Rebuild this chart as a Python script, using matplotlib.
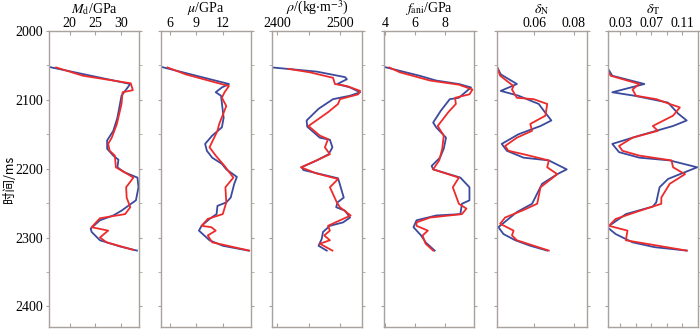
import numpy as np
import matplotlib
matplotlib.use("Agg")
import matplotlib.pyplot as plt
from matplotlib.ticker import MultipleLocator, FixedLocator

plt.rcParams['font.family'] = ['Liberation Serif', 'Noto Sans CJK SC']
plt.rcParams['mathtext.fontset'] = 'stix'

# --- data: (time ms, value) for blue and red curves in each panel ---
md_blue_t = [2052, 2077, 2085, 2094, 2126, 2145, 2159, 2171, 2181, 2187, 2198, 2205, 2213, 2227, 2246, 2254, 2261, 2268, 2275, 2287, 2292, 2304, 2313, 2319]
md_blue_v = [15.9, 31.8, 31.0, 30.1, 29.3, 28.5, 27.3, 27.3, 28.5, 29.5, 29.3, 30.6, 33.2, 33.4, 32.9, 31.4, 30.1, 28.5, 25.9, 24.1, 24.3, 25.9, 29.8, 33.1]
md_red_t = [2053, 2065, 2076, 2086, 2089, 2106, 2135, 2155, 2164, 2174, 2181, 2198, 2207, 2213, 2227, 2242, 2256, 2266, 2272, 2285, 2290, 2300, 2307, 2318]
md_red_v = [17.4, 22.6, 31.9, 32.3, 30.3, 30.1, 29.2, 28.2, 27.5, 27.8, 28.8, 29.0, 31.1, 32.4, 31.0, 31.1, 31.8, 30.8, 25.9, 24.3, 27.5, 25.9, 27.2, 32.4]

mu_blue_t = [2052, 2077, 2082, 2089, 2094, 2126, 2140, 2152, 2164, 2174, 2184, 2193, 2201, 2212, 2222, 2242, 2249, 2254, 2266, 2273, 2283, 2290, 2304, 2312, 2319]
mu_blue_v = [5.0, 12.7, 11.9, 11.2, 11.8, 12.1, 11.9, 10.8, 10.0, 10.2, 10.8, 11.9, 12.4, 13.6, 13.3, 12.9, 12.4, 11.4, 11.3, 10.5, 9.6, 9.3, 10.5, 12.0, 14.9]
mu_red_t = [2053, 2063, 2080, 2089, 2097, 2109, 2135, 2145, 2169, 2181, 2196, 2213, 2227, 2249, 2266, 2273, 2283, 2285, 2290, 2297, 2307, 2319]
mu_red_v = [5.75, 7.8, 12.7, 12.2, 11.9, 12.4, 11.6, 11.4, 10.5, 11.2, 12.2, 13.2, 12.3, 12.4, 12.0, 10.3, 9.6, 10.7, 11.2, 10.3, 10.8, 15.0]

rho_blue_t = [2053, 2059, 2067, 2070, 2077, 2082, 2089, 2094, 2099, 2113, 2130, 2139, 2155, 2158, 2169, 2179, 2188, 2198, 2202, 2214, 2242, 2249, 2256, 2261, 2271, 2278, 2283, 2292, 2302, 2312, 2319]
rho_blue_v = [2393, 2463, 2508, 2511, 2496, 2516, 2532, 2516, 2489, 2466, 2447, 2448, 2468, 2484, 2488, 2482, 2463, 2439, 2442, 2497, 2506, 2496, 2494, 2508, 2516, 2505, 2484, 2473, 2471, 2466, 2479]
rho_red_t = [2055, 2060, 2068, 2077, 2080, 2087, 2092, 2099, 2106, 2118, 2138, 2152, 2157, 2169, 2179, 2188, 2198, 2207, 2215, 2227, 2249, 2256, 2268, 2275, 2283, 2290, 2297, 2304, 2309, 2319]
rho_red_v = [2418, 2452, 2489, 2492, 2511, 2532, 2529, 2500, 2497, 2481, 2450, 2468, 2481, 2476, 2484, 2463, 2438, 2463, 2497, 2484, 2495, 2500, 2517, 2500, 2481, 2484, 2475, 2484, 2468, 2488]

fani_blue_t = [2052, 2065, 2072, 2077, 2082, 2097, 2099, 2116, 2133, 2140, 2155, 2171, 2184, 2196, 2201, 2213, 2227, 2246, 2251, 2266, 2268, 2275, 2285, 2297, 2307, 2319]
fani_blue_v = [3.93, 6.3, 7.4, 8.9, 9.7, 8.9, 8.3, 7.7, 7.2, 7.4, 8.05, 7.9, 7.65, 7.1, 7.2, 9.0, 9.6, 9.6, 9.1, 9.0, 7.4, 6.1, 5.9, 6.4, 6.7, 7.3]
fani_red_t = [2053, 2060, 2072, 2078, 2085, 2092, 2097, 2106, 2118, 2138, 2152, 2171, 2188, 2201, 2213, 2227, 2251, 2258, 2266, 2271, 2278, 2283, 2290, 2297, 2309, 2319]
fani_red_v = [4.3, 5.0, 7.0, 8.9, 9.8, 9.6, 8.65, 8.7, 8.2, 7.5, 7.9, 7.8, 7.6, 7.2, 8.9, 8.5, 8.9, 9.4, 9.1, 7.0, 6.1, 6.1, 6.85, 6.5, 6.7, 7.2]

dn_blue_t = [2053, 2063, 2077, 2087, 2094, 2106, 2116, 2130, 2138, 2150, 2164, 2174, 2184, 2188, 2201, 2208, 2222, 2251, 2263, 2285, 2295, 2304, 2312, 2319]
dn_blue_v = [0.0412, 0.0429, 0.0511, 0.0429, 0.0519, 0.0622, 0.0648, 0.0686, 0.0631, 0.0519, 0.0434, 0.0460, 0.0545, 0.0673, 0.0764, 0.0716, 0.0639, 0.0588, 0.0511, 0.0417, 0.0443, 0.0503, 0.0579, 0.0665]
dn_red_t = [2054, 2065, 2080, 2085, 2097, 2099, 2106, 2123, 2135, 2145, 2155, 2167, 2174, 2179, 2188, 2198, 2208, 2227, 2251, 2261, 2271, 2280, 2290, 2297, 2304, 2319]
dn_red_v = [0.0412, 0.0426, 0.0494, 0.0486, 0.0511, 0.0596, 0.0665, 0.0656, 0.0579, 0.0588, 0.0511, 0.0451, 0.0468, 0.0545, 0.0673, 0.0665, 0.0716, 0.0631, 0.0614, 0.0537, 0.0451, 0.0426, 0.0494, 0.0486, 0.0511, 0.0673]

dt_blue_t = [2053, 2065, 2077, 2089, 2094, 2104, 2120, 2130, 2138, 2152, 2164, 2176, 2184, 2188, 2198, 2208, 2215, 2227, 2249, 2255, 2266, 2285, 2295, 2307, 2314, 2319]
dt_blue_v = [0.0135, 0.020, 0.0612, 0.020, 0.0482, 0.0915, 0.1045, 0.1155, 0.098, 0.0547, 0.020, 0.0287, 0.0547, 0.0937, 0.129, 0.1067, 0.0915, 0.0807, 0.0764, 0.072, 0.0374, 0.0135, 0.0244, 0.046, 0.0742, 0.1155]
dt_red_t = [2056, 2065, 2077, 2085, 2094, 2099, 2106, 2111, 2123, 2138, 2145, 2155, 2167, 2174, 2181, 2188, 2198, 2208, 2222, 2242, 2251, 2263, 2273, 2283, 2290, 2304, 2319]
dt_red_v = [0.0135, 0.0179, 0.0547, 0.046, 0.0504, 0.0764, 0.0937, 0.1067, 0.098, 0.072, 0.0785, 0.046, 0.0287, 0.033, 0.0547, 0.096, 0.098, 0.1133, 0.0937, 0.0829, 0.0829, 0.0504, 0.0244, 0.0157, 0.0395, 0.0374, 0.1155]

titles = [r'$M_\mathrm{d}$/GPa', r'$\mu$/GPa', r'$\rho$/(kg$\cdot$m$^{-3}$)',
          r'$f_\mathrm{ani}$/GPa', r'$\delta_\mathrm{N}$', r'$\delta_\mathrm{T}$']
x_ticks = [[20, 25, 30], [6, 9, 12], [2400, 2450, 2500], [4, 6, 8],
           [0.06, 0.08], [0.03, 0.05, 0.07, 0.09, 0.11]]
x_labels = [['20', '25', '30'], ['6', '9', '12'], ['2400', '', '2500'], ['4', '6', '8'],
            ['0.06', '0.08'], ['0.03', '', '0.07', '', '0.11']]
x_lims = [(16, 33.5), (5, 15.2), (2392, 2535), (3.95, 9.9), (0.041, 0.0867), (0.0145, 0.130)]
y_ticks = [2000, 2100, 2200, 2300, 2400]

panels = [
    (md_blue_t, md_blue_v, md_red_t, md_red_v),
    (mu_blue_t, mu_blue_v, mu_red_t, mu_red_v),
    (rho_blue_t, rho_blue_v, rho_red_t, rho_red_v),
    (fani_blue_t, fani_blue_v, fani_red_t, fani_red_v),
    (dn_blue_t, dn_blue_v, dn_red_t, dn_red_v),
    (dt_blue_t, dt_blue_v, dt_red_t, dt_red_v),
]

BLUE = '#3b4a9c'
RED = '#ee2b2b'
SPINE = '#a8a29e'

fig = plt.figure(figsize=(7, 3.3), dpi=100)
lefts = [49, 161, 272, 384, 497, 608]
W, H = 700, 330
for i, (bt, bv, rt, rv) in enumerate(panels):
    ax = fig.add_axes([lefts[i] / W, 3 / H, 90 / W, 296 / H])
    ax.plot(bv, bt, color=BLUE, lw=1.3)
    ax.plot(rv, rt, color=RED, lw=1.3)
    ax.set_xlim(*x_lims[i])
    ax.set_ylim(2430, 2000)
    ax.xaxis.set_major_locator(FixedLocator(x_ticks[i]))
    ax.set_xticklabels(x_labels[i])
    ax.xaxis.tick_top()
    ax.tick_params(axis='x', which='both', direction='in', top=True, bottom=True,
                   length=3, color=SPINE, labelsize=10, pad=1)
    ax.yaxis.set_major_locator(MultipleLocator(100))
    ax.yaxis.set_minor_locator(MultipleLocator(50))
    ax.tick_params(axis='y', which='both', direction='out', left=True, right=True,
                   length=2.5, color=SPINE, labelsize=10, pad=2)
    for sp in ax.spines.values():
        sp.set_color(SPINE)
        sp.set_linewidth(1.0)
    if i == 0:
        ax.set_yticks(y_ticks)
        ax.set_ylabel('时间/ms', fontsize=9, family=['Noto Sans CJK SC'])
        ax.yaxis.set_label_coords(-33 / 90, 0.5)
    else:
        ax.set_yticklabels([])
    ax.set_title(titles[i], fontsize=10, pad=1)

fig.savefig('out.png', dpi=100)
